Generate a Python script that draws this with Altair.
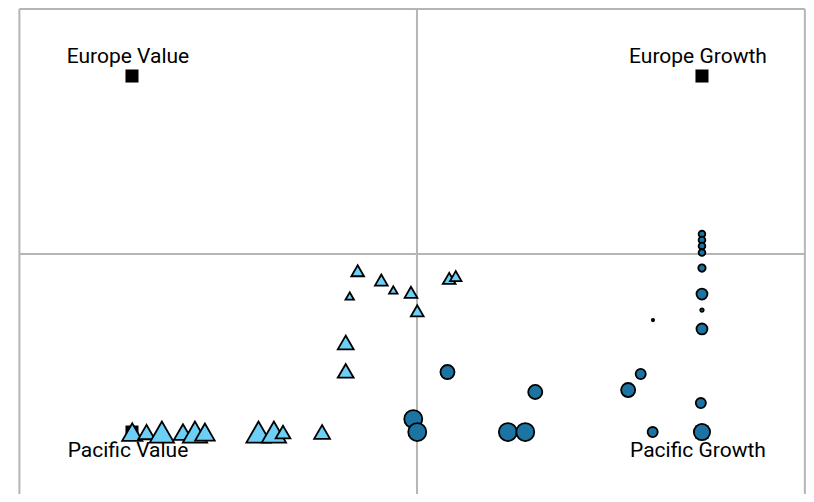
import altair as alt
import pandas as pd

# Corner reference points (style box)
corner_labels = ["Europe Value", "Europe Growth", "Pacific Value", "Pacific Growth"]
corner_x = [-1.0, 1.0, -1.0, 1.0]
corner_y = [1.0, 1.0, -1.0, -1.0]

# Triangle series (light blue)
tri_x = [-0.208, -0.125, -0.083, -0.236, -0.021, 0.001, 0.113, 0.136, -0.250, -0.250,
         -0.999, -0.949, -0.895, -0.821, -0.779, -0.744, -0.556, -0.502, -0.470, -0.333]
tri_y = [-0.094, -0.146, -0.202, -0.236, -0.215, -0.319, -0.137, -0.124, -0.497, -0.656,
         -1.0, -1.0, -1.0, -1.0, -1.0, -1.0, -1.0, -1.0, -1.0, -1.0]
tri_w = [27, 27, 12, 12, 27, 27, 27, 22, 42, 42,
         68, 46, 98, 55, 98, 64, 98, 98, 36, 42]

# Circle series (dark blue)
circ_x = [1.0, 1.0, 1.0, 1.0, 1.0, 1.0, 1.0, 0.828, 1.0, 0.107,
          0.785, 0.741, 0.415, 0.996, -0.013, 0.001, 0.319, 0.380, 0.827, 1.0]
circ_y = [0.112, 0.079, 0.045, 0.008, -0.079, -0.225, -0.315, -0.371, -0.421, -0.663,
          -0.674, -0.764, -0.775, -0.837, -0.927, -1.0, -1.0, -1.0, -1.0, -1.0]
circ_w = [7.5, 7.5, 7.5, 7.5, 9, 20, 2, 1, 20, 33,
          17, 33, 33, 17, 54, 54, 54, 54, 17, 44]

# Outer frame of the plot region and the centre cross (data units)
frame_left, frame_right = -1.395, 1.361
frame_top, frame_bottom = 1.376, -1.348

corners = pd.DataFrame({"label": corner_labels, "x": corner_x, "y": corner_y})
tris = pd.DataFrame({"x": tri_x, "y": tri_y, "w": tri_w})
circs = pd.DataFrame({"x": circ_x, "y": circ_y, "w": circ_w})
vlines = pd.DataFrame({"x": [frame_left, 0.0, frame_right],
                       "y": [frame_top] * 3, "y2": [frame_bottom] * 3})
hlines = pd.DataFrame({"x": [frame_left, frame_left], "x2": [frame_right, frame_right],
                       "y": [frame_top, 0.0]})

xs = alt.Scale(domain=[-1.435, 1.365], nice=False, zero=False)
ys = alt.Scale(domain=[-1.348, 1.382], nice=False, zero=False)
ss = alt.Scale(domain=[0, 100], range=[0, 600])

X = alt.X("x:Q", scale=xs, axis=None)
Y = alt.Y("y:Q", scale=ys, axis=None)

GRID = "#b5b5b5"

vrules = alt.Chart(vlines).mark_rule(color=GRID, strokeWidth=2).encode(
    x=X, y=Y, y2="y2:Q")
hrules = alt.Chart(hlines).mark_rule(color=GRID, strokeWidth=2).encode(
    x=X, x2="x2:Q", y=Y)

squares = alt.Chart(corners).mark_point(
    shape="square", filled=True, color="black", size=170, opacity=1
).encode(x=X, y=Y)

triangles = alt.Chart(tris).mark_point(
    shape="triangle-up", filled=True, fill="#6dcff6", stroke="black",
    strokeWidth=1.8, opacity=1
).encode(x=X, y=Y, size=alt.Size("w:Q", scale=ss, legend=None))

circles = alt.Chart(circs).mark_point(
    shape="circle", filled=True, fill="#1b74a2", stroke="black",
    strokeWidth=1.8, opacity=1
).encode(x=X, y=Y, size=alt.Size("w:Q", scale=ss, legend=None))

text_top = alt.Chart(corners).transform_filter("datum.y > 0").mark_text(
    font="Roboto", fontSize=21, color="black", dx=-4, dy=-13, baseline="alphabetic"
).encode(x=X, y=Y, text="label:N")

text_bot = alt.Chart(corners).transform_filter("datum.y < 0").mark_text(
    font="Roboto", fontSize=21, color="black", dx=-4, dy=25, baseline="alphabetic"
).encode(x=X, y=Y, text="label:N")

chart = alt.layer(vrules, hrules, squares, triangles, circles, text_top, text_bot).properties(
    width=798, height=486,
    autosize=alt.AutoSizeParams(type="none"),
    padding=0,
).configure_view(strokeWidth=0)

chart.save("out.html", embed_options={"renderer": "svg", "actions": False})
